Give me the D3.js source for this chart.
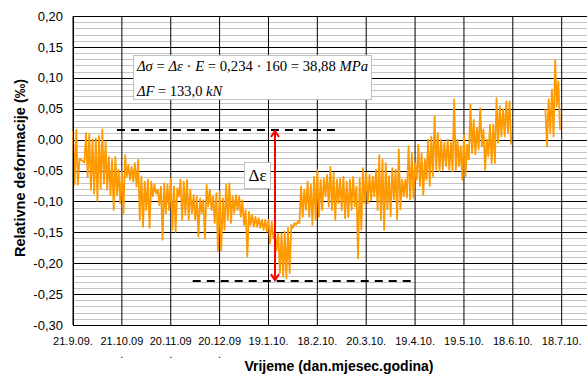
<!DOCTYPE html>
<html><head><meta charset="utf-8">
<script src="https://cdn.jsdelivr.net/npm/d3@7"></script>
<style>body{margin:0;background:#fff}</style>
</head><body><svg id="c" width="587" height="374"></svg>
<script>
// ---------- data ----------
const startDate = Date.UTC(2009, 8, 21);
const tickDays = [0, 30, 60, 90, 120, 150, 180, 210, 240, 270, 300];
const tickLabels = ["21.9.09.", "21.10.09", "20.11.09", "20.12.09", "19.1.10.", "18.2.10.", "20.3.10.", "19.4.10.", "19.5.10.", "18.6.10.", "18.7.10."];
const wrappedTickDays = [30, 60, 90]; // labels whose trailing "." wrapped to a 2nd line
const yTickValues = [0.20, 0.15, 0.10, 0.05, 0.00, -0.05, -0.10, -0.15, -0.20, -0.25, -0.30];

// strain readings: one high/low pair per 2-day step
const seg1StartDay = 0;
const seg1Hi = [0.014,0.016,-0.031,-0.035,0.011,0.009,0.000,0.002,0.006,0.016,
 -0.003,-0.028,-0.033,-0.028,-0.049,-0.052,-0.025,-0.041,-0.044,-0.038,
 -0.033,-0.060,-0.068,-0.065,-0.068,-0.073,-0.081,-0.076,-0.071,-0.073,
 -0.063,-0.076,-0.079,-0.065,-0.068,-0.065,-0.081,-0.090,-0.092,-0.095,
 -0.098,-0.073,-0.081,-0.092,-0.087,-0.084,-0.095,-0.073,-0.071,-0.092,
 -0.090,-0.092,-0.098,-0.114,-0.117,-0.122,-0.125,-0.127,-0.130,-0.130,
 -0.130,-0.133,-0.149,-0.152,-0.152,-0.149,-0.143,-0.138,-0.135,-0.133,
 -0.076,-0.081,-0.068,-0.073,-0.060,-0.049,-0.065,-0.063,-0.057,-0.044,
 -0.054,-0.065,-0.063,-0.060,-0.068,-0.065,-0.060,-0.076,-0.063,-0.046,
 -0.054,-0.057,-0.060,-0.049,-0.025,-0.033,-0.038,-0.059,-0.046,-0.049,
 -0.016,-0.065,-0.065,-0.011,-0.022,-0.038,-0.008,-0.022,-0.032,0.000,
 0.005,0.038,0.011,0.000,-0.005,0.000,-0.005,0.065,0.000,-0.011,
 0.008,-0.008,0.056,0.032,0.019,0.051,0.016,0.000,0.024,0.024,
 0.067,0.054,0.049,0.062,0.062];
const seg1Lo = [-0.073,-0.073,-0.033,-0.037,-0.060,-0.081,-0.087,-0.099,-0.079,-0.071,
 -0.081,-0.090,-0.114,-0.090,-0.103,-0.119,-0.060,-0.065,-0.068,-0.076,
 -0.130,-0.141,-0.114,-0.143,-0.092,-0.087,-0.106,-0.162,-0.119,-0.114,
 -0.146,-0.149,-0.092,-0.130,-0.122,-0.130,-0.119,-0.130,-0.157,-0.119,
 -0.160,-0.108,-0.114,-0.135,-0.181,-0.179,-0.146,-0.130,-0.135,-0.119,
 -0.114,-0.125,-0.138,-0.189,-0.138,-0.141,-0.141,-0.143,-0.146,-0.149,
 -0.168,-0.160,-0.179,-0.216,-0.222,-0.224,-0.216,-0.143,-0.138,-0.135,
 -0.125,-0.114,-0.125,-0.138,-0.130,-0.125,-0.114,-0.092,-0.108,-0.114,
 -0.130,-0.103,-0.114,-0.127,-0.125,-0.114,-0.108,-0.192,-0.146,-0.103,
 -0.103,-0.098,-0.092,-0.114,-0.130,-0.146,-0.113,-0.124,-0.097,-0.129,
 -0.113,-0.092,-0.094,-0.097,-0.094,-0.065,-0.075,-0.089,-0.065,-0.075,
 -0.059,-0.049,-0.051,-0.049,-0.043,-0.049,-0.051,-0.049,-0.043,-0.065,
 -0.059,-0.032,-0.022,-0.024,-0.016,-0.011,-0.049,-0.027,-0.038,-0.038,
 -0.005,0.005,0.005,0.011,-0.008];
const seg2StartDay = 290;
const seg2Hi = [0.049,0.065,0.081,0.129,0.094];
const seg2Lo = [-0.011,0.011,0.005,0.054,0.016];

// measured strain range annotation
const refUpper = 0.0155, refLower = -0.229;
const refUpperDays = [27, 164], refLowerDays = [73.5, 210];
const arrowDay = 124;

// ---------- drawing ----------
const svg = d3.select("#c");
svg.append("rect").attr("width", 587).attr("height", 374).attr("fill", "#fff");
const DAY = 86400000;
const day = d => new Date(startDate + d * DAY);
const x = d3.scaleUtc().domain([day(0), day(318)]).range([73, 591]);
const y = d3.scaleLinear().domain([-0.30, 0.20]).range([325, 16]);
const loc = d3.formatLocale({decimal: ",", thousands: ".", grouping: [3], currency: ["", ""], minus: "-"});
const fmt = loc.format(".2f");

const g = svg.append("g");
// minor horizontal grid
const minor = d3.range(-30, 21).filter(k => k % 5 !== 0).map(k => k / 100);
g.selectAll("line.minor").data(minor).join("line")
  .attr("x1", 73).attr("x2", 591).attr("y1", d => Math.round(y(d)) + 0.5).attr("y2", d => Math.round(y(d)) + 0.5)
  .attr("stroke", "#c4c4c4").attr("stroke-width", 1);
// major horizontal grid
g.selectAll("line.major").data(yTickValues).join("line")
  .attr("x1", 73).attr("x2", 591).attr("y1", d => Math.round(y(d)) + 0.5).attr("y2", d => Math.round(y(d)) + 0.5)
  .attr("stroke", "#000").attr("stroke-width", 1);
// vertical grid
g.selectAll("line.v").data(tickDays).join("line")
  .attr("x1", d => x(day(d))).attr("x2", d => x(day(d))).attr("y1", 16).attr("y2", 325)
  .attr("stroke", "#000").attr("stroke-width", 1);

// series
function zig(startDay, hi, lo) {
  const pts = [];
  hi.forEach((h, i) => {
    pts.push([startDay + 2 * i, h]);
    pts.push([startDay + 2 * i + 1, lo[i]]);
  });
  return pts;
}
const line = d3.line().x(p => x(day(p[0]))).y(p => y(p[1]));
[[seg1StartDay, seg1Hi, seg1Lo], [seg2StartDay, seg2Hi, seg2Lo]].forEach(s => {
  svg.append("path").attr("d", line(zig(...s))).attr("fill", "none")
    .attr("stroke", "#ff9900").attr("stroke-width", 1.8).attr("stroke-linejoin", "round");
});

// dashed reference lines
[[refUpper, refUpperDays], [refLower, refLowerDays]].forEach(([v, ds]) => {
  svg.append("line").attr("x1", x(day(ds[0]))).attr("x2", x(day(ds[1])))
    .attr("y1", y(v)).attr("y2", y(v))
    .attr("stroke", "#000").attr("stroke-width", 2).attr("stroke-dasharray", "8,6");
});

// red double arrow
const ax = x(day(arrowDay)), ay1 = y(refUpper) + 1, ay2 = y(refLower) - 1;
svg.append("line").attr("x1", ax).attr("x2", ax).attr("y1", ay1 + 1).attr("y2", ay2 - 1)
  .attr("stroke", "#ff0000").attr("stroke-width", 2);
svg.append("path").attr("d", `M${ax - 4},${ay1 + 6}L${ax},${ay1}L${ax + 4},${ay1 + 6}`)
  .attr("fill", "none").attr("stroke", "#ff0000").attr("stroke-width", 2);
svg.append("path").attr("d", `M${ax - 4},${ay2 - 6}L${ax},${ay2}L${ax + 4},${ay2 - 6}`)
  .attr("fill", "none").attr("stroke", "#ff0000").attr("stroke-width", 2);

// Δε label box
svg.append("rect").attr("x", 244.5).attr("y", 162.5).attr("width", 26).attr("height", 26)
  .attr("fill", "#fff").attr("stroke", "#c0c0c0");
svg.append("text").attr("x", 257.5).attr("y", 181).attr("text-anchor", "middle")
  .attr("font-family", "Liberation Serif, Times New Roman, serif").attr("font-size", 17).text("Δε");

// formula box
svg.append("rect").attr("x", 133.5).attr("y", 55.5).attr("width", 238).attr("height", 44)
  .attr("fill", "#fff").attr("stroke", "#c0c0c0");
const serif = "Liberation Serif, Times New Roman, serif";
const t1 = svg.append("text").attr("x", 137).attr("y", 71).attr("font-family", serif).attr("font-size", 14.5)
  .attr("textLength", 231).attr("lengthAdjust", "spacingAndGlyphs");
[["Δσ", 1], [" = ", 0], ["Δε", 1], [" · ", 0], ["E", 1], [" = 0,234 · 160 = 38,88  ", 0], ["MPa", 1]]
  .forEach(([s, it]) => t1.append("tspan").attr("font-style", it ? "italic" : "normal").text(s));
const t2 = svg.append("text").attr("x", 137).attr("y", 96).attr("font-family", serif).attr("font-size", 14.5);
[["ΔF", 1], [" = 133,0  ", 0], ["kN", 1]]
  .forEach(([s, it]) => t2.append("tspan").attr("font-style", it ? "italic" : "normal").text(s));

// plot frame (left, bottom, top)
svg.append("line").attr("x1", 73.5).attr("x2", 73.5).attr("y1", 16).attr("y2", 325.5).attr("stroke", "#000");
svg.append("line").attr("x1", 73).attr("x2", 591).attr("y1", 325.5).attr("y2", 325.5).attr("stroke", "#000");
svg.append("line").attr("x1", 73).attr("x2", 591).attr("y1", 16.5).attr("y2", 16.5).attr("stroke", "#000");

// axis labels
const sans = "Liberation Sans, Arial, sans-serif";
svg.selectAll("text.yl").data(yTickValues).join("text")
  .attr("x", 63).attr("y", d => y(d)).attr("dy", "0.36em").attr("text-anchor", "end")
  .attr("font-family", sans).attr("font-size", 13).attr("fill", "#000").text(d => fmt(d));
svg.selectAll("text.xl").data(tickDays).join("text")
  .attr("x", d => x(day(d))).attr("y", 345).attr("text-anchor", "middle")
  .attr("font-family", sans).attr("font-size", 11).attr("fill", "#000")
  .text((d, i) => tickLabels[i]);
svg.selectAll("text.xw").data(wrappedTickDays).join("text")
  .attr("x", d => x(day(d))).attr("y", 358).attr("text-anchor", "middle")
  .attr("font-family", sans).attr("font-size", 11).text(".");
svg.append("text").attr("x", 339).attr("y", 371).attr("text-anchor", "middle")
  .attr("font-family", sans).attr("font-weight", "bold").attr("font-size", 14).text("Vrijeme (dan.mjesec.godina)");
svg.append("text").attr("transform", "translate(25,168) rotate(-90)").attr("text-anchor", "middle")
  .attr("font-family", sans).attr("font-weight", "bold").attr("font-size", 14.5).text("Relativne deformacije (‰)");
</script></body></html>
